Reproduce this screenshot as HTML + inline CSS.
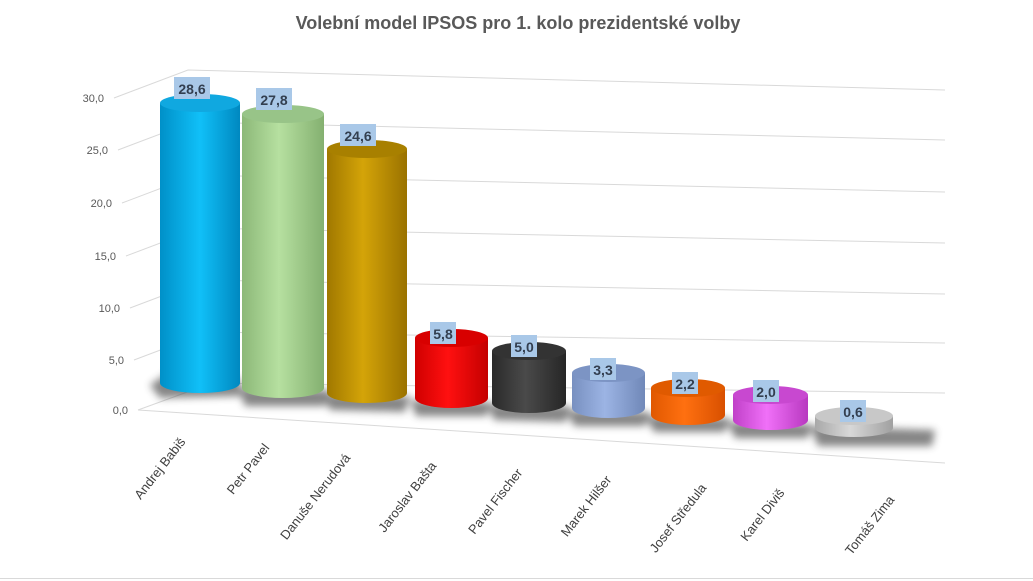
<!DOCTYPE html>
<html><head><meta charset="utf-8"><style>
html,body{margin:0;padding:0;background:#fff;}
svg{display:block;font-family:"Liberation Sans",sans-serif;}
</style></head><body>
<svg width="1033" height="581" viewBox="0 0 1033 581">
<defs>
<filter id="blur" x="-20%" y="-50%" width="140%" height="200%"><feGaussianBlur stdDeviation="4"/></filter>
<linearGradient id="g1" x1="0" x2="1"><stop offset="0" stop-color="#0090c8"/><stop offset="0.5" stop-color="#10c0f8"/><stop offset="1" stop-color="#0088c0"/></linearGradient>
<linearGradient id="g2" x1="0" x2="1"><stop offset="0" stop-color="#8cb878"/><stop offset="0.45" stop-color="#b6e0a0"/><stop offset="1" stop-color="#84b070"/></linearGradient>
<linearGradient id="g3" x1="0" x2="1"><stop offset="0" stop-color="#a07800"/><stop offset="0.45" stop-color="#d4a408"/><stop offset="1" stop-color="#9a7200"/></linearGradient>
<linearGradient id="g4" x1="0" x2="1"><stop offset="0" stop-color="#d00000"/><stop offset="0.45" stop-color="#ff1010"/><stop offset="1" stop-color="#c40000"/></linearGradient>
<linearGradient id="g5" x1="0" x2="1"><stop offset="0" stop-color="#2a2a2a"/><stop offset="0.45" stop-color="#4a4a4a"/><stop offset="1" stop-color="#262626"/></linearGradient>
<linearGradient id="g6" x1="0" x2="1"><stop offset="0" stop-color="#7890c0"/><stop offset="0.45" stop-color="#9cb4e4"/><stop offset="1" stop-color="#7088b8"/></linearGradient>
<linearGradient id="g7" x1="0" x2="1"><stop offset="0" stop-color="#e05800"/><stop offset="0.45" stop-color="#ff7010"/><stop offset="1" stop-color="#d85000"/></linearGradient>
<linearGradient id="g8" x1="0" x2="1"><stop offset="0" stop-color="#c040c8"/><stop offset="0.45" stop-color="#f070f8"/><stop offset="1" stop-color="#b838c0"/></linearGradient>
<linearGradient id="g9" x1="0" x2="1"><stop offset="0" stop-color="#a8a8a8"/><stop offset="0.45" stop-color="#d8d8d8"/><stop offset="1" stop-color="#a0a0a0"/></linearGradient>
</defs>
<text x="518" y="29" text-anchor="middle" font-size="18" font-weight="bold" fill="#595959">Volební model IPSOS pro 1. kolo prezidentské volby</text>

<g stroke="#d9d9d9" stroke-width="1" fill="none">
<polyline points="114,98 188,70 945,90"/>
<polyline points="118,150 192,122 945,140"/>
<polyline points="122,203 196,175 945,192"/>
<polyline points="126,256 200,228 945,243"/>
<polyline points="130,308 204,280 945,294"/>
<polyline points="134,360 208,332 945,343"/>
<polyline points="138,410 212,383 945,393"/>
<line x1="138" y1="410" x2="945" y2="463"/>
</g>
<g font-size="11" fill="#595959" text-anchor="end">
<text x="104" y="102">30,0</text><text x="108" y="154">25,0</text><text x="112" y="207">20,0</text>
<text x="116" y="260">15,0</text><text x="120" y="312">10,0</text><text x="124" y="364">5,0</text><text x="128" y="414">0,0</text>
</g>

<g fill="#444" opacity="0.65" filter="url(#blur)">
<polygon points="150,385 178,366 240,378 240,396 160,398"/>
<polygon points="238,388 330,390 325,406 245,406"/>
<polygon points="322,394 410,396 405,412 330,410"/>
<polygon points="410,400 490,402 487,416 416,416"/>
<polygon points="487,404 570,406 566,422 494,420"/>
<polygon points="566,410 650,412 645,426 574,426"/>
<polygon points="645,416 730,418 725,432 654,432"/>
<polygon points="727,422 812,424 808,438 735,438"/>
<polygon points="810,426 935,430 932,446 818,446"/>
</g>

<g>
<rect x="160" y="103" width="80" height="280" fill="url(#g1)"/><ellipse cx="200" cy="383" rx="40" ry="10" fill="url(#g1)"/><ellipse cx="200" cy="103" rx="40" ry="9" fill="#10a8e0"/>
<rect x="242" y="114" width="82" height="274" fill="url(#g2)"/><ellipse cx="283" cy="388" rx="41" ry="10" fill="url(#g2)"/><ellipse cx="283" cy="114" rx="41" ry="9" fill="#98c488"/>
<rect x="327" y="149" width="80" height="244" fill="url(#g3)"/><ellipse cx="367" cy="393" rx="40" ry="10" fill="url(#g3)"/><ellipse cx="367" cy="149" rx="40" ry="9" fill="#a88000"/>
<rect x="415" y="338" width="73" height="60" fill="url(#g4)"/><ellipse cx="451.5" cy="398" rx="36.5" ry="10" fill="url(#g4)"/><ellipse cx="451.5" cy="338" rx="36.5" ry="9" fill="#d80000"/>
<rect x="492" y="351" width="74" height="52" fill="url(#g5)"/><ellipse cx="529" cy="403" rx="37" ry="10" fill="url(#g5)"/><ellipse cx="529" cy="351" rx="37" ry="9" fill="#333"/>
<rect x="572" y="373" width="73" height="35" fill="url(#g6)"/><ellipse cx="608.5" cy="408" rx="36.5" ry="10" fill="url(#g6)"/><ellipse cx="608.5" cy="373" rx="36.5" ry="9" fill="#7c94c4"/>
<rect x="651" y="388" width="74" height="27" fill="url(#g7)"/><ellipse cx="688" cy="415" rx="37" ry="10" fill="url(#g7)"/><ellipse cx="688" cy="388" rx="37" ry="9" fill="#e05a00"/>
<rect x="733" y="395" width="75" height="25" fill="url(#g8)"/><ellipse cx="770.5" cy="420" rx="37.5" ry="10" fill="url(#g8)"/><ellipse cx="770.5" cy="395" rx="37.5" ry="9" fill="#c848d0"/>
<rect x="815" y="416" width="78" height="12" fill="url(#g9)"/><ellipse cx="854" cy="428" rx="39" ry="9" fill="url(#g9)"/><ellipse cx="854" cy="416" rx="39" ry="9" fill="#c8c8c8"/>
</g>

<g font-size="14" font-weight="bold" fill="#333f50" text-anchor="middle">
<rect x="174" y="77" width="36" height="22" fill="#a9c8e8"/><text x="192" y="94">28,6</text>
<rect x="256" y="88" width="36" height="22" fill="#a9c8e8"/><text x="274" y="105">27,8</text>
<rect x="340" y="124" width="36" height="22" fill="#a9c8e8"/><text x="358" y="141">24,6</text>
<rect x="430" y="322" width="26" height="22" fill="#a9c8e8"/><text x="443" y="339">5,8</text>
<rect x="511" y="335" width="26" height="22" fill="#a9c8e8"/><text x="524" y="352">5,0</text>
<rect x="590" y="358" width="26" height="22" fill="#a9c8e8"/><text x="603" y="375">3,3</text>
<rect x="672" y="372" width="26" height="22" fill="#a9c8e8"/><text x="685" y="389">2,2</text>
<rect x="753" y="380" width="26" height="22" fill="#a9c8e8"/><text x="766" y="397">2,0</text>
<rect x="840" y="400" width="26" height="22" fill="#a9c8e8"/><text x="853" y="417">0,6</text>
</g>

<g font-size="13" fill="#404040" text-anchor="end">
<text transform="translate(186,442) rotate(-52)">Andrej Babiš</text>
<text transform="translate(270,448) rotate(-52)">Petr Pavel</text>
<text transform="translate(351,458) rotate(-52)">Danuše Nerudová</text>
<text transform="translate(437,466) rotate(-52)">Jaroslav Bašta</text>
<text transform="translate(523,473) rotate(-52)">Pavel Fischer</text>
<text transform="translate(612,480) rotate(-52)">Marek Hilšer</text>
<text transform="translate(707,488) rotate(-52)">Josef Středula</text>
<text transform="translate(785,493) rotate(-52)">Karel Diviš</text>
<text transform="translate(895,500) rotate(-52)">Tomáš Zima</text>
</g>
<line x1="0" y1="578.5" x2="1033" y2="578.5" stroke="#d9d9d9"/>
</svg>
</body></html>
